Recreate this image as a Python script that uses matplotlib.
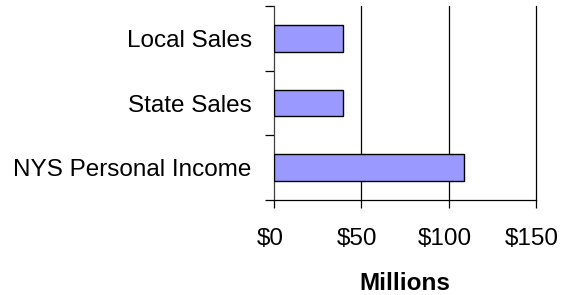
import matplotlib
matplotlib.use("Agg")
import matplotlib.pyplot as plt
from matplotlib.ticker import FixedLocator
from matplotlib.transforms import ScaledTranslation

categories = ["Local Sales", "State Sales", "NYS Personal Income"]
values = [39.5, 39.5, 109]
xticks = [0, 50, 100, 150]
xtick_labels = ["$0", "$50", "$100", "$150"]

plt.rcParams['font.family'] = ['Liberation Sans', 'DejaVu Sans']
FS = 17.5

fig = plt.figure(figsize=(5.74, 2.95), dpi=100)
ax = fig.add_axes([274/574, 1-200/295, (536-274)/574, (200-6)/295])

ypos = [2, 1, 0]
ax.barh(ypos, values, height=0.41, color="#9999FF", edgecolor="black", linewidth=1, zorder=3)

ax.set_xlim(0, 150)
ax.set_ylim(-0.5, 2.5)

for x in xticks[1:]:
    ax.axvline(x, color="black", linewidth=0.9, zorder=1, clip_on=False)

ax.set_xticks(xticks)
ax.set_xticklabels(xtick_labels, fontsize=FS)
ax.set_yticks(ypos)
ax.set_yticklabels(categories, fontsize=FS)
ax.yaxis.set_minor_locator(FixedLocator([-0.5, 0.5, 1.5, 2.5]))

ax.tick_params(axis='y', which='major', length=0, pad=16)
ax.tick_params(axis='y', which='minor', length=6.5, width=0.9, direction='out', color='black')
ax.tick_params(axis='x', which='major', length=6, width=0.9, direction='out', pad=14)

shift = ScaledTranslation(-4/100, 0, fig.dpi_scale_trans)
for lbl in ax.get_xticklabels():
    lbl.set_transform(lbl.get_transform() + shift)

for s in ['top', 'right']:
    ax.spines[s].set_visible(False)
ax.spines['left'].set_color('#404040')
ax.spines['left'].set_linewidth(0.9)
ax.spines['bottom'].set_linewidth(0.9)

ax.set_xlabel("Millions", fontsize=FS, fontweight='bold', labelpad=16)

fig.savefig("out.png", dpi=100)
